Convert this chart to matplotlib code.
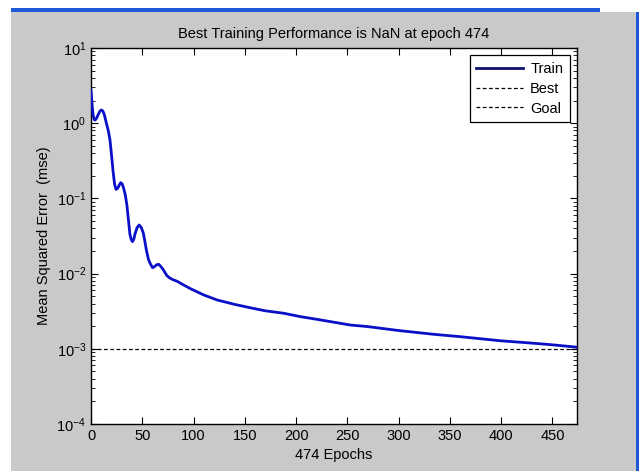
import matplotlib
matplotlib.use("Agg")
import matplotlib.pyplot as plt
from matplotlib.patches import Rectangle
from matplotlib.ticker import LogLocator, LogFormatterMathtext

plt.rcParams['font.family'] = ['Liberation Sans', 'DejaVu Sans']
plt.rcParams['mathtext.fontset'] = 'custom'
plt.rcParams['mathtext.rm'] = 'Liberation Sans'
plt.rcParams['mathtext.it'] = 'Liberation Sans'
plt.rcParams['mathtext.bf'] = 'Liberation Sans'

# ---- data ----
train_epochs = [0, 1, 2, 3, 4, 5.5, 7, 8.5, 10, 11.5, 13, 15, 17, 18.5, 20, 21.5, 23, 24.4, 26,
                27.5, 29, 30.5, 32, 33.5, 35, 36.5, 38, 39.2, 40.4, 41.7, 43, 45, 47, 49, 51,
                52.5, 54, 56, 57.6, 60, 62, 64, 66, 68, 70.6, 74, 77, 80, 84, 90, 97, 110, 123,
                140, 155, 170, 188, 204, 220, 253, 269, 300, 334, 360, 399, 430, 450, 474]
train_mse = [2.75, 1.8, 1.3, 1.12, 1.1, 1.17, 1.3, 1.43, 1.5, 1.46, 1.3, 1.0, 0.78, 0.6,
             0.38, 0.23, 0.155, 0.132, 0.136, 0.15, 0.162, 0.155, 0.134, 0.11, 0.082, 0.052,
             0.033, 0.0285, 0.0266, 0.0285, 0.034, 0.041, 0.0443, 0.041, 0.0347, 0.027, 0.0206,
             0.0155, 0.0137, 0.012, 0.0124, 0.0131, 0.0133, 0.0125, 0.0112, 0.0094, 0.0087,
             0.0083, 0.0079, 0.0071, 0.0063, 0.0052, 0.00446, 0.0039, 0.00352, 0.0032, 0.00297,
             0.00268, 0.00247, 0.00207, 0.00198, 0.00175, 0.00156, 0.00145, 0.00128, 0.00119,
             0.00113, 0.00105]
goal = 1e-3
n_epochs = 474
x_ticks = [0, 50, 100, 150, 200, 250, 300, 350, 400, 450]
title_text = "Best Training Performance is NaN at epoch 474"
xlabel_text = "474 Epochs"
ylabel_text = "Mean Squared Error  (mse)"

W, H = 644, 471
fig = plt.figure(figsize=(W / 100, H / 100), dpi=100, facecolor='white')

# window chrome: gray figure area, blue borders
fig.patches.append(Rectangle((11 / W, 0), (636 - 11) / W, (H - 12) / H,
                             transform=fig.transFigure, facecolor='#c9c9c9',
                             edgecolor='none', zorder=-10))
fig.patches.append(Rectangle((11 / W, (H - 12) / H), (600 - 11) / W, 4 / H,
                             transform=fig.transFigure, facecolor='#1e5ad8',
                             edgecolor='none', zorder=-9))
fig.patches.append(Rectangle((636 / W, 0), 3 / W, (H - 12) / H,
                             transform=fig.transFigure, facecolor='#1e5ad8',
                             edgecolor='none', zorder=-9))

ax = fig.add_axes([91 / W, (H - 424) / H, (577 - 91) / W, (424 - 48) / H])
ax.set_facecolor('white')

ax.plot(train_epochs, train_mse, color='#0a10c8', lw=2.0, label='Train', zorder=3,
        solid_joinstyle='round')
ax.plot([], [], color='black', ls='--', lw=0.9, dashes=(3, 2), label='Best')
ax.axhline(goal, color='black', ls='--', lw=0.9, dashes=(3, 2), label='Goal', zorder=2)

ax.set_yscale('log')
ax.set_ylim(1e-4, 10)
ax.set_xlim(0, n_epochs)
ax.set_xticks(x_ticks)
ax.yaxis.set_major_locator(LogLocator(base=10, numticks=10))
ax.yaxis.set_minor_locator(LogLocator(base=10, subs=range(2, 10), numticks=20))
ax.yaxis.set_major_formatter(LogFormatterMathtext())

ax.tick_params(which='both', direction='in', top=True, right=True, colors='black',
               labelsize=10.5)
ax.tick_params(which='major', length=5, width=0.8)
ax.tick_params(which='minor', length=3, width=0.6)
for s in ax.spines.values():
    s.set_linewidth(1.0)
    s.set_color('black')

ax.set_title(title_text, fontsize=10.5, pad=7)
ax.set_xlabel(xlabel_text, fontsize=10.5, labelpad=4)
ax.set_ylabel(ylabel_text, fontsize=10.5, labelpad=4)

leg = ax.legend(loc='upper right', fontsize=10.5, frameon=True, fancybox=False,
                edgecolor='black', framealpha=1, borderpad=0.45, handlelength=3.2,
                handletextpad=0.5, labelspacing=0.4, borderaxespad=0.5)
leg.get_frame().set_linewidth(0.9)
leg.get_lines()[0].set_color('#101070')

fig.savefig('out.png', dpi=100, facecolor=fig.get_facecolor())
